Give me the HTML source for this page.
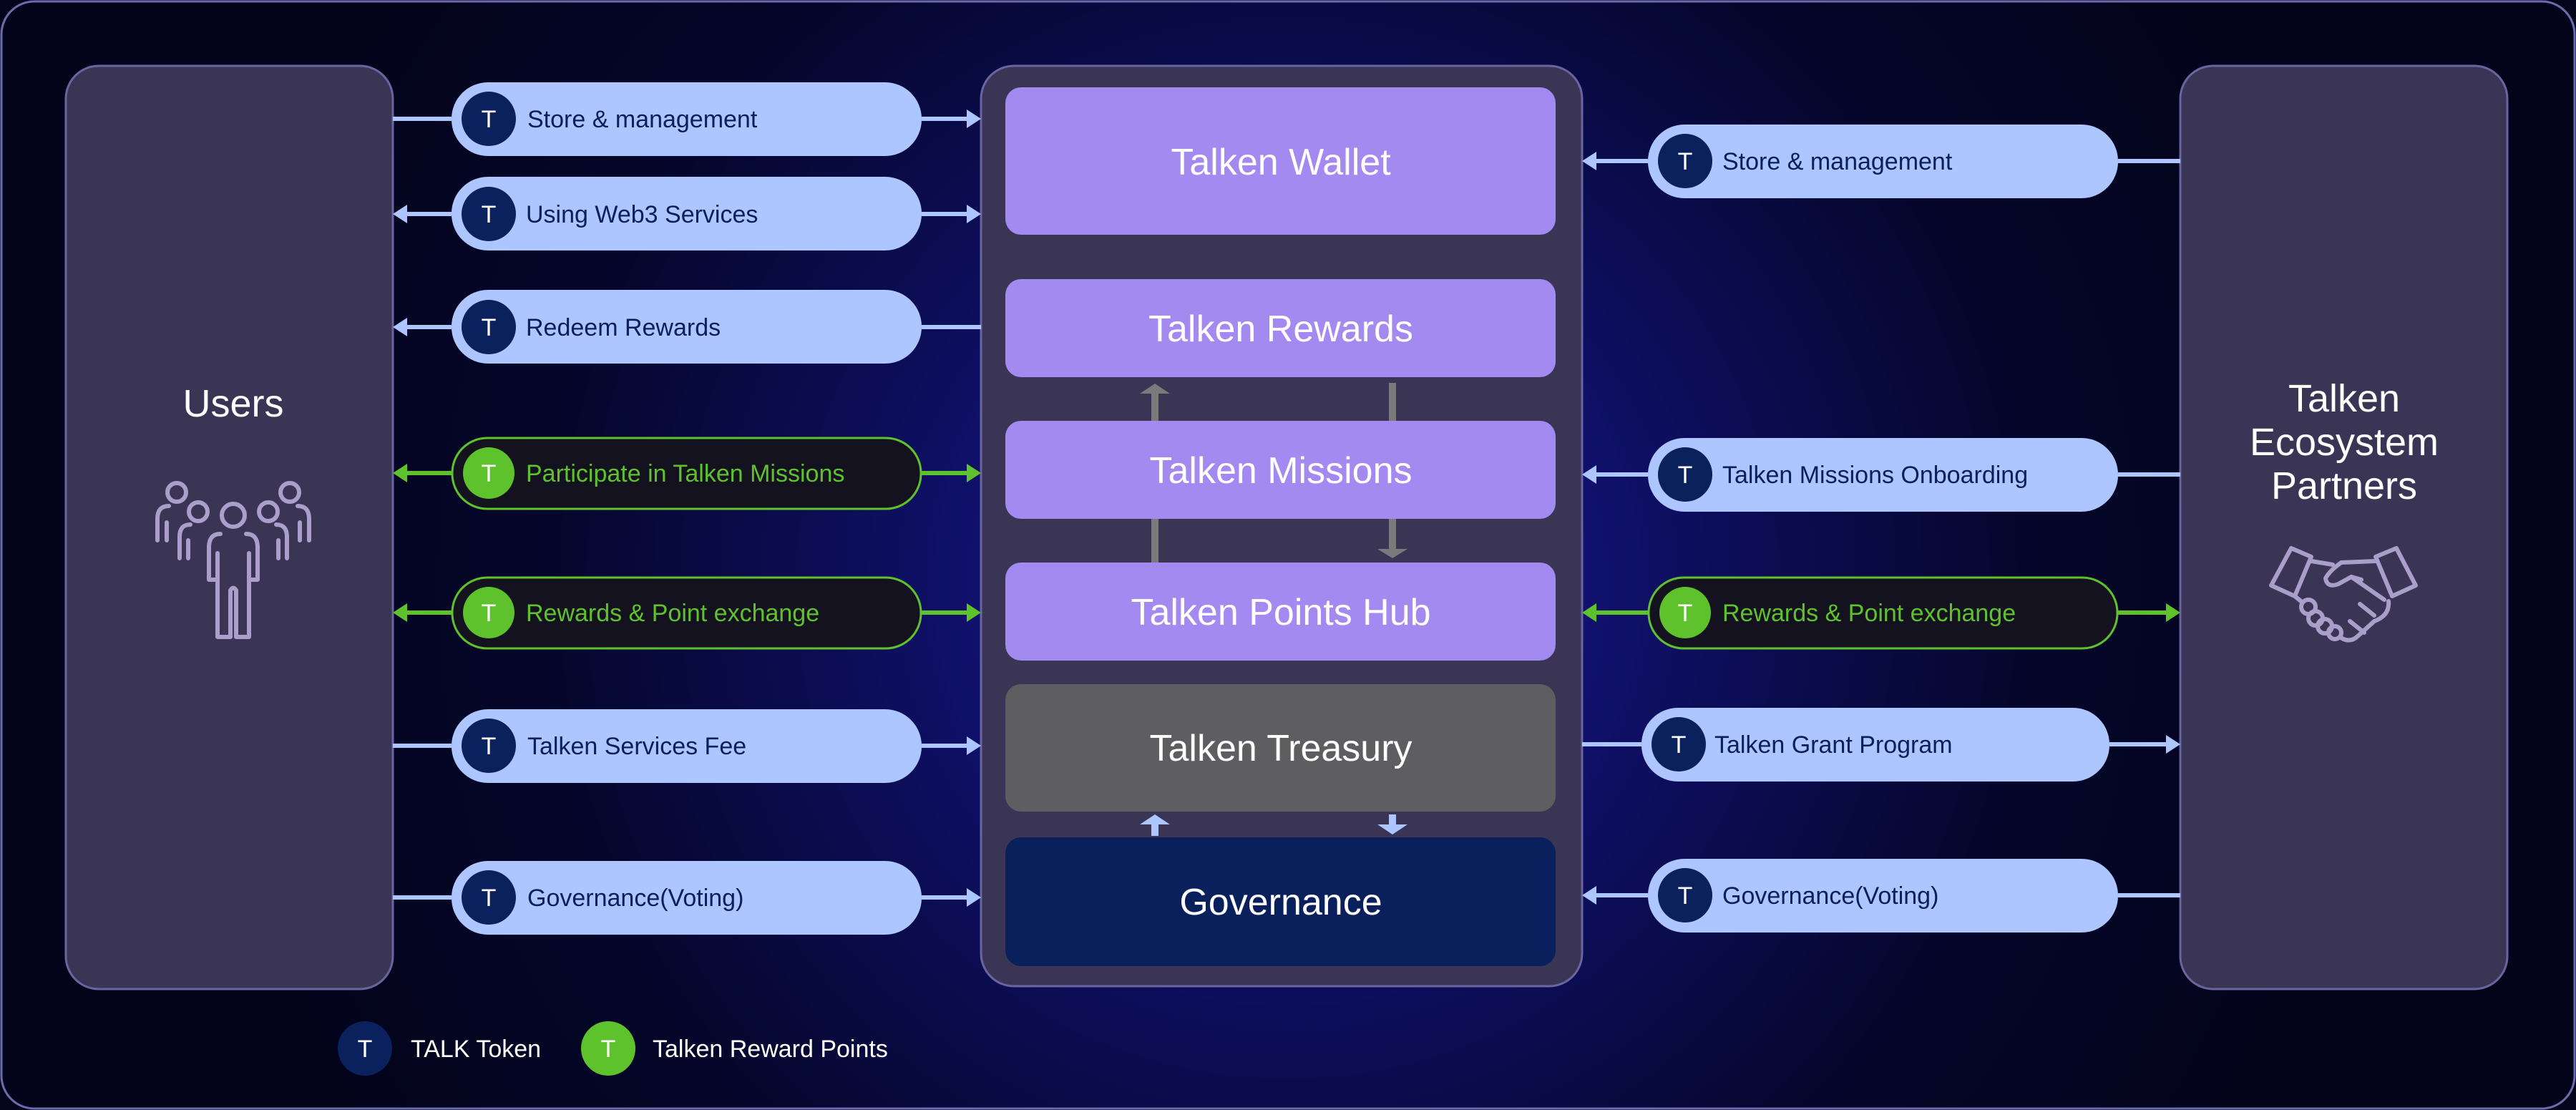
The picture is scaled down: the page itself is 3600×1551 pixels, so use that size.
<!DOCTYPE html>
<html><head><meta charset="utf-8"><style>
html,body{margin:0;padding:0;background:#04051a;}
svg{display:block;}
text{font-family:"Liberation Sans",sans-serif;}
</style></head><body>
<svg width="3600" height="1551" viewBox="0 0 3600 1551" xmlns="http://www.w3.org/2000/svg">
<defs>
<radialGradient id="bg" cx="1800" cy="820" r="1500" gradientUnits="userSpaceOnUse">
<stop offset="0" stop-color="#1b1aa0"/><stop offset="0.35" stop-color="#0e0f62"/><stop offset="0.7" stop-color="#05062a"/><stop offset="1" stop-color="#03041a"/>
</radialGradient>
</defs>
<rect x="2" y="2" width="3596" height="1547" rx="46" fill="url(#bg)" stroke="#6d6bb0" stroke-width="3"/>

<rect x="92" y="92" width="457" height="1290" rx="46" fill="#3a3555" stroke="#6a64a0" stroke-width="3"/>
<rect x="3047" y="92" width="457" height="1290" rx="46" fill="#3a3555" stroke="#6a64a0" stroke-width="3"/>
<rect x="1371" y="92" width="840" height="1286" rx="46" fill="#3a3555" stroke="#6a64a0" stroke-width="3"/>

<text x="326" y="582" font-size="54" fill="#fff" text-anchor="middle">Users</text>
<text font-size="54" fill="#fff" text-anchor="middle"><tspan x="3276" y="575">Talken</tspan><tspan x="3276" y="636">Ecosystem</tspan><tspan x="3276" y="697">Partners</tspan></text>

<g fill="none" stroke="#aa9fca" stroke-width="6" stroke-linecap="round" stroke-linejoin="round">
<circle cx="247" cy="688" r="13"/><circle cx="405" cy="688" r="13"/>
<circle cx="277" cy="715" r="13"/><circle cx="375" cy="715" r="13"/>
<circle cx="326" cy="720" r="16"/>
<path d="M236 707 Q220 707 220 725 V755 M233 730 V755"/>
<path d="M416 707 Q432 707 432 725 V755 M419 730 V755"/>
<path d="M266 733 Q251 733 251 750 V780 M263 755 V780"/>
<path d="M386 733 Q401 733 401 750 V780 M389 755 V780"/>
<path d="M308 746 Q292 746 292 765 V810 H304 V773 M344 746 Q360 746 360 765 V810 H348 V773 M304 790 V890 H322 V825 Q326 818 330 825 V890 H348 V790"/>
</g>
<g fill="none" stroke="#aa9fca" stroke-width="6" stroke-linecap="round" stroke-linejoin="round">
<path d="M3202 766 L3230 778 L3207 833 L3174 818 Z"/>
<path d="M3349 766 L3320 778 L3343 833 L3376 818 Z"/>
<path d="M3230 784 L3260 789"/>
<path d="M3320 784 L3272 786 Q3256 797 3250 808 Q3252 822 3268 816 L3286 806 L3332 838"/>
<path d="M3286 806 L3300 810"/>
<path d="M3207 833 L3218 842"/>
<path d="M3338 840 Q3340 860 3318 868 L3296 888 Q3284 900 3270 890"/>
<circle cx="3226" cy="848" r="10"/><circle cx="3236" cy="864" r="10"/><circle cx="3249" cy="875" r="10"/><circle cx="3263" cy="884" r="9"/>
<path d="M3298 844 L3318 860 M3284 868 L3304 884"/>
</g>

<rect x="1405" y="122" width="769" height="206" rx="22" fill="#a38af0"/>
<text x="1790" y="244" font-size="52" fill="#fff" text-anchor="middle">Talken Wallet</text>
<rect x="1405" y="390" width="769" height="137" rx="22" fill="#a38af0"/>
<text x="1790" y="477" font-size="52" fill="#fff" text-anchor="middle">Talken Rewards</text>
<rect x="1405" y="588" width="769" height="137" rx="22" fill="#a38af0"/>
<text x="1790" y="675" font-size="52" fill="#fff" text-anchor="middle">Talken Missions</text>
<rect x="1405" y="786" width="769" height="137" rx="22" fill="#a38af0"/>
<text x="1790" y="873" font-size="52" fill="#fff" text-anchor="middle">Talken Points Hub</text>
<rect x="1405" y="956" width="769" height="178" rx="22" fill="#5e5e61"/>
<text x="1790" y="1063" font-size="52" fill="#fff" text-anchor="middle">Talken Treasury</text>
<rect x="1405" y="1170" width="769" height="180" rx="22" fill="#0a205c"/>
<text x="1790" y="1278" font-size="52" fill="#fff" text-anchor="middle">Governance</text>

<g fill="#7a7a7a">
<rect x="1609" y="548" width="10" height="40"/><polygon points="1593,550 1614,536 1635,550"/>
<rect x="1609" y="725" width="10" height="61"/>
<rect x="1941" y="535" width="10" height="53"/>
<rect x="1941" y="725" width="10" height="42"/><polygon points="1925,767 1946,780 1967,767"/>
</g>
<g fill="#adc6ff">
<rect x="1609" y="1150" width="10" height="18"/><polygon points="1593,1152 1614,1138 1635,1152"/>
<rect x="1941" y="1138" width="10" height="16"/><polygon points="1925,1152 1946,1166 1967,1152"/>
</g>

<g stroke-width="6">
<line x1="549" y1="166" x2="631" y2="166" stroke="#adc6ff"/><line x1="1288" y1="166" x2="1352" y2="166" stroke="#adc6ff"/>
<line x1="568" y1="299" x2="631" y2="299" stroke="#adc6ff"/><line x1="1288" y1="299" x2="1352" y2="299" stroke="#adc6ff"/>
<line x1="568" y1="457" x2="631" y2="457" stroke="#adc6ff"/><line x1="1288" y1="457" x2="1371" y2="457" stroke="#adc6ff"/>
<line x1="568" y1="661" x2="631" y2="661" stroke="#5ec22c"/><line x1="1288" y1="661" x2="1352" y2="661" stroke="#5ec22c"/>
<line x1="568" y1="856" x2="631" y2="856" stroke="#5ec22c"/><line x1="1288" y1="856" x2="1352" y2="856" stroke="#5ec22c"/>
<line x1="549" y1="1042" x2="631" y2="1042" stroke="#adc6ff"/><line x1="1288" y1="1042" x2="1352" y2="1042" stroke="#adc6ff"/>
<line x1="549" y1="1254" x2="631" y2="1254" stroke="#adc6ff"/><line x1="1288" y1="1254" x2="1352" y2="1254" stroke="#adc6ff"/>
<line x1="2230" y1="225" x2="2303" y2="225" stroke="#adc6ff"/><line x1="2960" y1="225" x2="3047" y2="225" stroke="#adc6ff"/>
<line x1="2230" y1="663" x2="2303" y2="663" stroke="#adc6ff"/><line x1="2960" y1="663" x2="3047" y2="663" stroke="#adc6ff"/>
<line x1="2230" y1="856" x2="2303" y2="856" stroke="#5ec22c"/><line x1="2960" y1="856" x2="3028" y2="856" stroke="#5ec22c"/>
<line x1="2211" y1="1040" x2="2294" y2="1040" stroke="#adc6ff"/><line x1="2948" y1="1040" x2="3028" y2="1040" stroke="#adc6ff"/>
<line x1="2230" y1="1251" x2="2303" y2="1251" stroke="#adc6ff"/><line x1="2960" y1="1251" x2="3047" y2="1251" stroke="#adc6ff"/>
</g>
<g fill="#adc6ff">
<polygon points="1351,153 1371,166 1351,179"/>
<polygon points="1351,286 1371,299 1351,312"/><polygon points="569,286 549,299 569,312"/>
<polygon points="569,444 549,457 569,470"/>
<polygon points="1351,1029 1371,1042 1351,1055"/>
<polygon points="1351,1241 1371,1254 1351,1267"/>
<polygon points="2231,212 2211,225 2231,238"/>
<polygon points="2231,650 2211,663 2231,676"/>
<polygon points="3027,1027 3047,1040 3027,1053"/>
<polygon points="2231,1238 2211,1251 2231,1264"/>
</g>
<g fill="#5ec22c">
<polygon points="1351,648 1371,661 1351,674"/><polygon points="569,648 549,661 569,674"/>
<polygon points="1351,843 1371,856 1351,869"/><polygon points="569,843 549,856 569,869"/>
<polygon points="2231,843 2211,856 2231,869"/><polygon points="3027,843 3047,856 3027,869"/>
</g>

<g font-size="34">
<rect x="631" y="115" width="657" height="103" rx="51" fill="#adc6ff"/>
<circle cx="683" cy="166" r="38" fill="#0a215e"/><text x="683" y="178" fill="#fff" text-anchor="middle">T</text>
<text x="737" y="178" fill="#0b1f5c">Store &amp; management</text>

<rect x="631" y="247" width="657" height="103" rx="51" fill="#adc6ff"/>
<circle cx="683" cy="299" r="38" fill="#0a215e"/><text x="683" y="311" fill="#fff" text-anchor="middle">T</text>
<text x="735" y="311" fill="#0b1f5c">Using Web3 Services</text>

<rect x="631" y="405" width="657" height="103" rx="51" fill="#adc6ff"/>
<circle cx="683" cy="457" r="38" fill="#0a215e"/><text x="683" y="469" fill="#fff" text-anchor="middle">T</text>
<text x="735" y="469" fill="#0b1f5c">Redeem Rewards</text>

<rect x="632" y="612" width="655" height="99" rx="49" fill="#15121f" stroke="#5ec22c" stroke-width="3"/>
<circle cx="683" cy="661" r="36" fill="#5ec22c"/><text x="683" y="673" fill="#fff" text-anchor="middle">T</text>
<text x="735" y="673" fill="#5ec22c">Participate in Talken Missions</text>

<rect x="632" y="807" width="655" height="99" rx="49" fill="#15121f" stroke="#5ec22c" stroke-width="3"/>
<circle cx="683" cy="856" r="36" fill="#5ec22c"/><text x="683" y="868" fill="#fff" text-anchor="middle">T</text>
<text x="735" y="868" fill="#5ec22c">Rewards &amp; Point exchange</text>

<rect x="631" y="991" width="657" height="103" rx="51" fill="#adc6ff"/>
<circle cx="683" cy="1042" r="38" fill="#0a215e"/><text x="683" y="1054" fill="#fff" text-anchor="middle">T</text>
<text x="737" y="1054" fill="#0b1f5c">Talken Services Fee</text>

<rect x="631" y="1203" width="657" height="103" rx="51" fill="#adc6ff"/>
<circle cx="683" cy="1254" r="38" fill="#0a215e"/><text x="683" y="1266" fill="#fff" text-anchor="middle">T</text>
<text x="737" y="1266" fill="#0b1f5c">Governance(Voting)</text>

<rect x="2303" y="174" width="657" height="103" rx="51" fill="#adc6ff"/>
<circle cx="2355" cy="225" r="38" fill="#0a215e"/><text x="2355" y="237" fill="#fff" text-anchor="middle">T</text>
<text x="2407" y="237" fill="#0b1f5c">Store &amp; management</text>

<rect x="2303" y="612" width="657" height="103" rx="51" fill="#adc6ff"/>
<circle cx="2355" cy="663" r="38" fill="#0a215e"/><text x="2355" y="675" fill="#fff" text-anchor="middle">T</text>
<text x="2407" y="675" fill="#0b1f5c">Talken Missions Onboarding</text>

<rect x="2304" y="807" width="655" height="99" rx="49" fill="#15121f" stroke="#5ec22c" stroke-width="3"/>
<circle cx="2355" cy="856" r="36" fill="#5ec22c"/><text x="2355" y="868" fill="#fff" text-anchor="middle">T</text>
<text x="2407" y="868" fill="#5ec22c">Rewards &amp; Point exchange</text>

<rect x="2294" y="989" width="654" height="103" rx="51" fill="#adc6ff"/>
<circle cx="2346" cy="1040" r="38" fill="#0a215e"/><text x="2346" y="1052" fill="#fff" text-anchor="middle">T</text>
<text x="2396" y="1052" fill="#0b1f5c">Talken Grant Program</text>

<rect x="2303" y="1200" width="657" height="103" rx="51" fill="#adc6ff"/>
<circle cx="2355" cy="1251" r="38" fill="#0a215e"/><text x="2355" y="1263" fill="#fff" text-anchor="middle">T</text>
<text x="2407" y="1263" fill="#0b1f5c">Governance(Voting)</text>

<circle cx="510" cy="1465" r="38" fill="#0a215e"/><text x="510" y="1477" fill="#fff" text-anchor="middle">T</text>
<text x="574" y="1477" fill="#fff">TALK Token</text>
<circle cx="850" cy="1465" r="38" fill="#5ec22c"/><text x="850" y="1477" fill="#fff" text-anchor="middle">T</text>
<text x="912" y="1477" fill="#fff">Talken Reward Points</text>
</g>
</svg>
</body></html>
